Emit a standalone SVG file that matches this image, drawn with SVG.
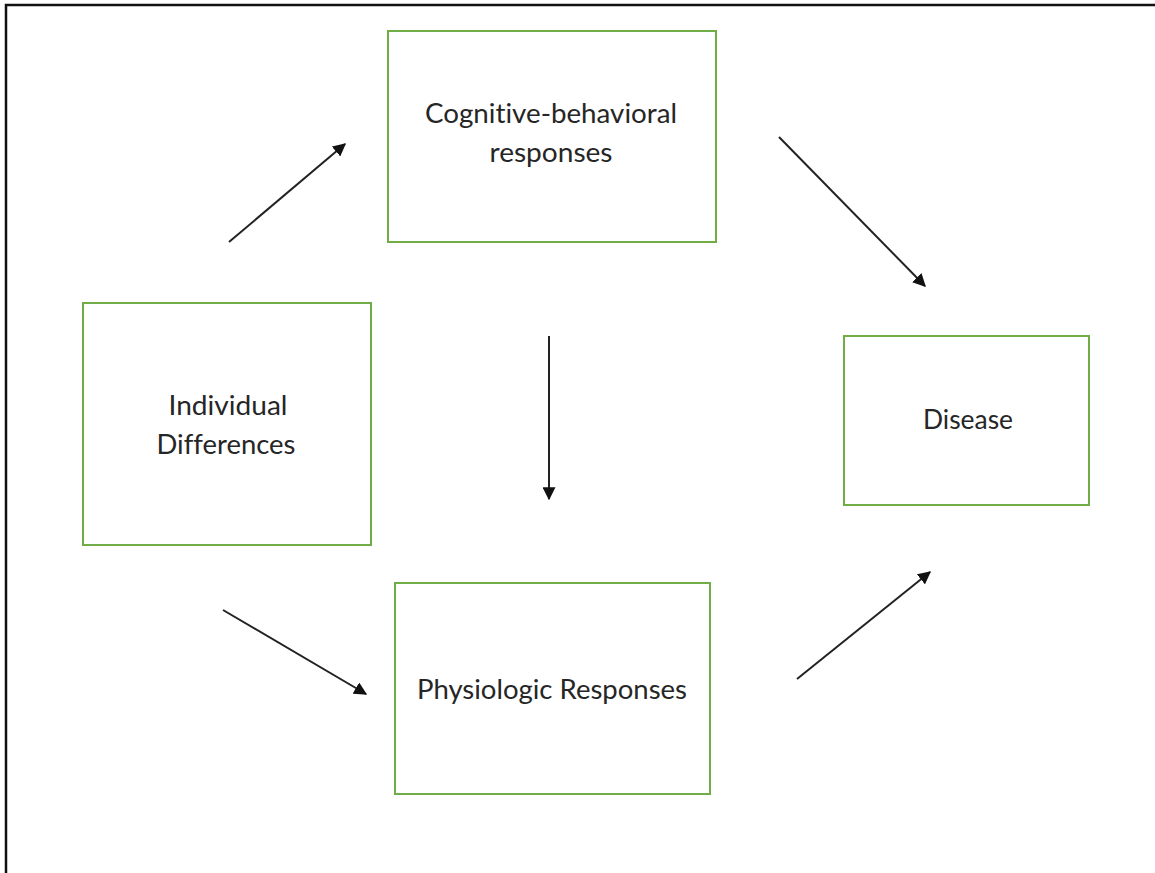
<svg xmlns="http://www.w3.org/2000/svg" width="1155" height="873" viewBox="0 0 1155 873">
<style>
.box{fill:#fff;stroke:#70AD47;stroke-width:2}
.lbl{font-family:Lato,"Liberation Sans",sans-serif;font-size:26px;fill:#262626;text-anchor:middle;font-variant-ligatures:none}
.arr{stroke:#222;stroke-width:2;fill:none;marker-end:url(#ah)}
</style>
<defs>
<marker id="ah" viewBox="0 0 10 10" refX="9" refY="5" markerWidth="6.5" markerHeight="6.5" markerUnits="strokeWidth" orient="auto">
<path d="M0,0 L10,5 L0,10 z" fill="#111"/>
</marker>
</defs>
<rect x="0" y="0" width="1155" height="873" fill="#fff"/>
<rect x="6" y="5" width="1170" height="890" fill="none" stroke="#111" stroke-width="2.5"/>
<g id="cognitive">
<rect class="box" x="388" y="31" width="328" height="211"/>
<text class="lbl" x="551" y="123" textLength="252" lengthAdjust="spacingAndGlyphs">Cognitive-behavioral</text>
<text class="lbl" x="551" y="162" textLength="123" lengthAdjust="spacingAndGlyphs">responses</text>
</g>
<g id="individual">
<rect class="box" x="83" y="303" width="288" height="242"/>
<text class="lbl" x="228" y="415" textLength="119" lengthAdjust="spacingAndGlyphs">Individual</text>
<text class="lbl" x="226" y="454" textLength="139" lengthAdjust="spacingAndGlyphs">Differences</text>
</g>
<g id="disease">
<rect class="box" x="844" y="336" width="245" height="169"/>
<text class="lbl" x="968" y="429" textLength="90" lengthAdjust="spacingAndGlyphs">Disease</text>
</g>
<g id="physiologic">
<rect class="box" x="395" y="583" width="315" height="211"/>
<text class="lbl" x="552" y="699" textLength="270" lengthAdjust="spacingAndGlyphs">Physiologic Responses</text>
</g>
<g id="connectors">
<line class="arr" x1="229" y1="242" x2="345" y2="144"/>
<line class="arr" x1="779" y1="137" x2="925" y2="286"/>
<line class="arr" x1="549" y1="336" x2="549" y2="499"/>
<line class="arr" x1="223" y1="610" x2="366" y2="694"/>
<line class="arr" x1="797" y1="679" x2="930" y2="572"/>
</g>
</svg>
